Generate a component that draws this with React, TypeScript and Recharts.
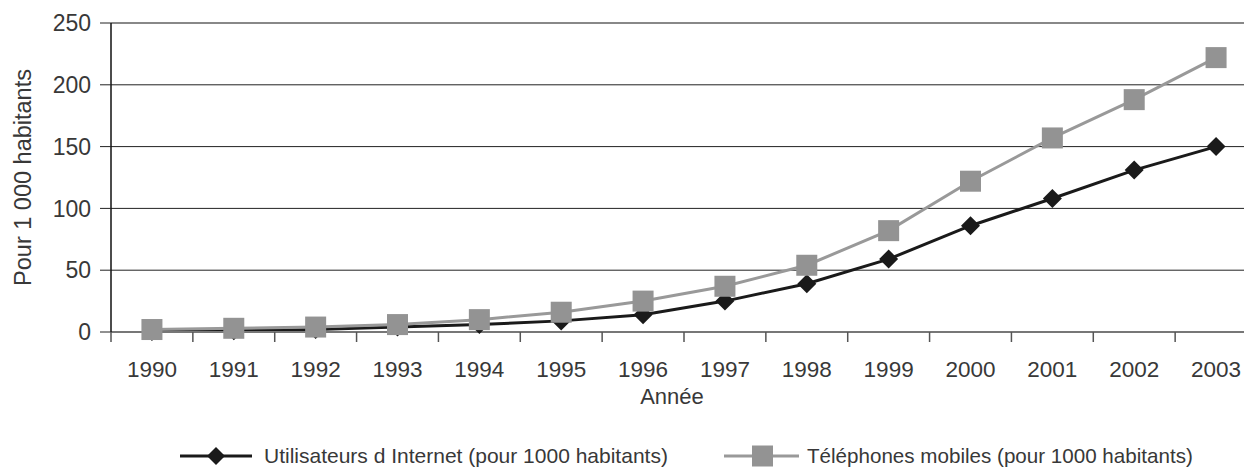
import React from 'react';
import { LineChart, Line, XAxis, YAxis, CartesianGrid, Legend, ReferenceLine } from 'recharts';

const years = ['1990', '1991', '1992', '1993', '1994', '1995', '1996', '1997', '1998', '1999', '2000', '2001', '2002', '2003'];
const internet = [0.5, 1, 2, 4, 6, 9, 14, 25, 39, 59, 86, 108, 131, 150];
const mobile = [2, 3, 4, 6, 10, 16, 25, 37, 54, 82, 122, 157, 188, 222];
const yTicks = [0, 50, 100, 150, 200, 250];
const seriesNames = {
  internet: 'Utilisateurs d Internet (pour 1000 habitants)',
  mobile: 'Téléphones mobiles (pour 1000 habitants)',
};

const data = years.map((y, i) => ({ year: y, internet: internet[i], mobile: mobile[i] }));

const FONT = '"Liberation Sans", Arial, sans-serif';
const TEXT = '#383838';
const CHART_W = 1252;
const CHART_H = 460;
const MARGIN = { top: 15, right: 3, left: 13, bottom: 36 };
const Y_W = 90;
const PLOT_W = CHART_W - MARGIN.left - MARGIN.right - Y_W;
const BAND = PLOT_W / years.length;

const XTick = (props: any) => {
  const { x, y, payload } = props;
  const bx = x - BAND / 2;
  return (
    <g>
      <line x1={bx} x2={bx} y1={y} y2={y + 10} stroke="#555" strokeWidth={1.5} />
      <text x={x} y={y + 45} textAnchor="middle" fill={TEXT} fontSize={22.5} fontFamily={FONT}>
        {payload.value}
      </text>
    </g>
  );
};

const Diamond = (props: any) => {
  const { cx, cy } = props;
  if (cx == null || cy == null) return null;
  const r = 9.5;
  return <polygon points={`${cx},${cy - r} ${cx + r},${cy} ${cx},${cy + r} ${cx - r},${cy}`} fill="#1a1a1a" />;
};

const Square = (props: any) => {
  const { cx, cy } = props;
  if (cx == null || cy == null) return null;
  return <rect x={cx - 10.5} y={cy - 10.5} width={21} height={21} fill="#939393" />;
};

const legendPos: Record<string, number> = { internet: 172, mobile: 716 };

const LegendContent = (props: any) => {
  const { payload } = props;
  return (
    <div style={{ position: 'relative', width: CHART_W, height: 24 }}>
      {(payload || []).map((p: any) => {
        const isInternet = p.dataKey === 'internet';
        const lineW = isInternet ? 72 : 75;
        return (
          <div
            key={p.dataKey}
            style={{ position: 'absolute', left: legendPos[p.dataKey], top: 0, display: 'flex', alignItems: 'center', height: 24 }}
          >
            <svg width={lineW} height={24} style={{ display: 'block' }}>
              <line x1={0} x2={lineW} y1={12} y2={12} stroke={isInternet ? '#1a1a1a' : '#999'} strokeWidth={3} />
              {isInternet ? (
                <polygon points={`${36},${3} ${45},${12} ${36},${21} ${27},${12}`} fill="#1a1a1a" />
              ) : (
                <rect x={28} y={1.5} width={21} height={21} fill="#939393" />
              )}
            </svg>
            <span
              style={{ marginLeft: isInternet ? 12 : 8, fontFamily: FONT, fontSize: isInternet ? 21 : 20.6, color: TEXT, whiteSpace: 'nowrap', lineHeight: '24px' }}
            >
              {seriesNames[p.dataKey as 'internet' | 'mobile']}
            </span>
          </div>
        );
      })}
    </div>
  );
};

export default function App() {
  return (
    <div style={{ width: 1244, height: CHART_H, overflow: 'hidden' }}>
      <LineChart width={CHART_W} height={CHART_H} data={data} margin={MARGIN}>
        <CartesianGrid vertical={false} stroke="#222" strokeWidth={1} />
        <ReferenceLine y={250} stroke="#888" strokeWidth={2} />
        <XAxis
          dataKey="year"
          interval={0}
          padding={{ left: BAND / 2, right: BAND / 2 }}
          tickLine={false}
          tickSize={0}
          tickMargin={0}
          tick={<XTick />}
          axisLine={{ stroke: '#777', strokeWidth: 2 }}
          height={100}
          label={{
            content: (p: any) => {
              const vb = p.viewBox || {};
              return (
                <text
                  x={vb.x + vb.width / 2 - 12}
                  y={vb.y + 64}
                  dominantBaseline="central"
                  textAnchor="middle"
                  fill={TEXT}
                  fontSize={22}
                  fontFamily={FONT}
                >
                  Année
                </text>
              );
            },
          }}
        />
        <YAxis
          domain={[0, 250]}
          ticks={yTicks}
          width={Y_W}
          tickSize={11}
          tickMargin={9}
          tickLine={{ stroke: '#222' }}
          axisLine={{ stroke: '#111', strokeWidth: 1.5 }}
          tick={{ fill: TEXT, fontSize: 23, fontFamily: FONT }}
          label={{
            content: (p: any) => {
              const vb = p.viewBox || {};
              const cx = vb.x + 2;
              const cy = vb.y + vb.height / 2;
              return (
                <text
                  x={cx}
                  y={cy}
                  transform={`rotate(-90 ${cx} ${cy})`}
                  dominantBaseline="central"
                  textAnchor="middle"
                  fill={TEXT}
                  fontSize={23.5}
                  fontFamily={FONT}
                >
                  Pour 1 000 habitants
                </text>
              );
            },
          }}
        />
        <Legend
          layout="horizontal"
          verticalAlign="middle"
          align="center"
          wrapperStyle={{ top: 436, left: 0, width: CHART_W }}
          content={<LegendContent />}
        />
        <Line
          dataKey="internet"
          name={seriesNames.internet}
          stroke="#1a1a1a"
          strokeWidth={3}
          dot={<Diamond />}
          activeDot={false}
          isAnimationActive={false}
        />
        <Line
          dataKey="mobile"
          name={seriesNames.mobile}
          stroke="#999"
          strokeWidth={3}
          dot={<Square />}
          activeDot={false}
          isAnimationActive={false}
        />
      </LineChart>
    </div>
  );
}
